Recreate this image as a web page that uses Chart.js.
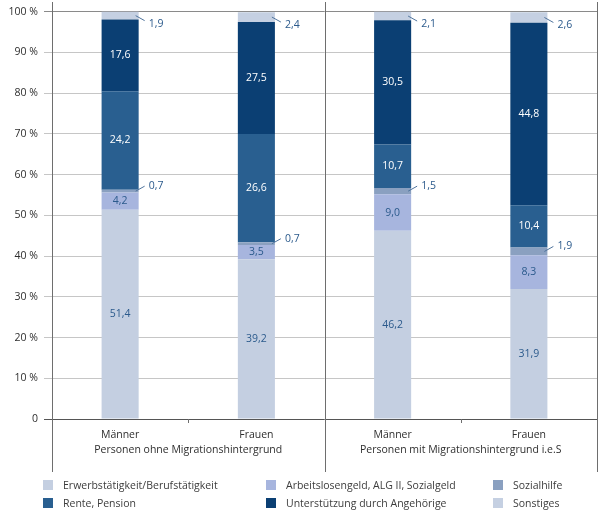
<!DOCTYPE html>
<html>
<head>
<meta charset="utf-8">
<script src="https://cdn.jsdelivr.net/npm/chart.js@4/dist/chart.umd.min.js"></script>
<style>
  body { margin: 0; background: #fff; font-family: "Open Sans", sans-serif; }
  #wrap { position: relative; width: 602px; height: 515px; }
  #chart { position: absolute; left: 0; top: 0; }
  #legend {
    position: absolute; left: 43px; top: 476px;
    display: grid; grid-template-columns: 223px 227px auto;
    font-size: 10.5px; color: #3c3c3c;
  }
  .item { display: flex; align-items: center; height: 18px; white-space: nowrap; }
  .box { width: 10px; height: 10px; margin-right: 10px; flex: none; }
</style>
</head>
<body>
<div id="wrap">
  <canvas id="chart" width="602" height="478"></canvas>
  <div id="legend"></div>
</div>
<script>
// Categories and groups
const categories = ["Männer", "Frauen", "Männer", "Frauen"];
const groups = ["Personen ohne Migrationshintergrund", "Personen mit Migrationshintergrund i.e.S"];

// Series values (percent), bottom to top
const erwerb = [51.4, 39.2, 46.2, 31.9];
const alg = [4.2, 3.5, 9.0, 8.3];
const sozialhilfe = [0.7, 0.7, 1.5, 1.9];
const rente = [24.2, 26.6, 10.7, 10.4];
const unterstuetzung = [17.6, 27.5, 30.5, 44.8];
const sonstiges = [1.9, 2.4, 2.1, 2.6];

const seriesNames = [
  "Erwerbstätigkeit/Berufstätigkeit",
  "Arbeitslosengeld, ALG II, Sozialgeld",
  "Sozialhilfe",
  "Rente, Pension",
  "Unterstützung durch Angehörige",
  "Sonstiges",
];
const seriesColors = ["#c4cfe1", "#a7b5de", "#8aa0c0", "#295f90", "#0b3f73", "#c5d0e2"];
const labelColors = ["#2b5a8c", "#2b5a8c", "#2b5a8c", "#ffffff", "#ffffff", "#2b5a8c"];
const outsideSeries = { 2: "up", 5: "down" };

const yTicks = [0, 10, 20, 30, 40, 50, 60, 70, 80, 90, 100];

const FONT = "Open Sans";
const fmt = (v) => v.toFixed(1).replace(".", ",");

const allData = [erwerb, alg, sozialhilfe, rente, unterstuetzung, sonstiges];
const datasets = allData.map((d, i) => ({
  label: seriesNames[i],
  data: d,
  backgroundColor: seriesColors[i],
  borderWidth: 0,
  barPercentage: 0.272,
  categoryPercentage: 1,
}));

// Value labels (inside or with leader line)
const valueLabels = {
  id: "valueLabels",
  afterDatasetsDraw(chart) {
    const ctx = chart.ctx;
    ctx.save();
    ctx.font = "10.5px '" + FONT + "'";
    ctx.textBaseline = "middle";
    chart.data.datasets.forEach((ds, di) => {
      const meta = chart.getDatasetMeta(di);
      meta.data.forEach((el, i) => {
        const v = ds.data[i];
        const cy = (el.y + el.base) / 2;
        const right = el.x + el.width / 2;
        if (outsideSeries[di]) {
          const dir = outsideSeries[di] === "up" ? -1 : 1;
          ctx.strokeStyle = "#4f739c";
          ctx.lineWidth = 1;
          ctx.beginPath();
          ctx.moveTo(right - 3, cy);
          ctx.lineTo(right + 6, cy + dir * 5);
          ctx.stroke();
          ctx.fillStyle = "#2b5a8c";
          ctx.textAlign = "left";
          ctx.fillText(fmt(v), right + 10, cy + dir * (dir < 0 ? 5 : 8));
        } else {
          ctx.fillStyle = labelColors[di];
          ctx.textAlign = "center";
          ctx.fillText(fmt(v), el.x, cy);
        }
      });
    });
    ctx.restore();
  },
};

// Group separators, axis extensions, group labels
const groupFrame = {
  id: "groupFrame",
  afterDraw(chart) {
    const ctx = chart.ctx;
    const xs = chart.scales.x;
    const area = chart.chartArea;
    const step = xs.getPixelForValue(1) - xs.getPixelForValue(0);
    const bottom = area.bottom + 53;
    ctx.save();
    ctx.strokeStyle = "#6e6e6e";
    ctx.lineWidth = 1;
    const full = [area.left, xs.getPixelForValue(1) + step / 2, area.right];
    full.forEach((x) => {
      const px = Math.round(x) + 0.5;
      ctx.beginPath();
      ctx.moveTo(px, area.top);
      ctx.lineTo(px, bottom);
      ctx.stroke();
    });
    [0, 2].forEach((i) => {
      const px = Math.round(xs.getPixelForValue(i) + step / 2) + 0.5;
      ctx.beginPath();
      ctx.moveTo(px, area.bottom);
      ctx.lineTo(px, area.bottom + 4);
      ctx.stroke();
    });
    ctx.fillStyle = "#2e2e2e";
    ctx.font = "10.5px '" + FONT + "'";
    ctx.textAlign = "center";
    ctx.textBaseline = "middle";
    groups.forEach((g, gi) => {
      const cx = (full[gi] + full[gi + 1]) / 2;
      ctx.fillText(g, cx, area.bottom + 31);
    });
    ctx.restore();
  },
};

new Chart(document.getElementById("chart"), {
  type: "bar",
  data: { labels: categories, datasets: datasets },
  options: {
    responsive: false,
    animation: false,
    devicePixelRatio: 1,
    layout: { padding: { top: 2, right: 5, left: 0, bottom: 0 } },
    plugins: { legend: { display: false }, tooltip: { enabled: false } },
    scales: {
      x: {
        stacked: true,
        grid: { display: false },
        border: { display: false },
        ticks: { color: "#2e2e2e", font: { family: FONT, size: 10.5 }, padding: 2 },
        afterFit: (s) => { s.height = 59; s.paddingLeft = 0; s.paddingRight = 0; },
      },
      y: {
        stacked: true,
        min: 0,
        max: 102.4,
        afterBuildTicks: (s) => { s.ticks = yTicks.map((v) => ({ value: v })); },
        grid: {
          color: (c) => (c.tick && c.tick.value === 0 ? "#555" : c.tick && c.tick.value === 100 ? "#8a8a8a" : "#c6c6c6"),
          tickLength: 8,
        },
        border: { display: false },
        ticks: {
          color: "#2e2e2e",
          font: { family: FONT, size: 10.5 },
          padding: 6,
          callback: (v) => (v === 0 ? "0" : v + " %"),
        },
        afterFit: (s) => { s.width = 52; s.paddingTop = 0; s.paddingBottom = 0; },
      },
    },
  },
  plugins: [valueLabels, groupFrame],
});

// HTML legend, three columns
const legend = document.getElementById("legend");
seriesNames.forEach((name, i) => {
  const item = document.createElement("div");
  item.className = "item";
  const box = document.createElement("span");
  box.className = "box";
  box.style.background = seriesColors[i];
  item.appendChild(box);
  item.appendChild(document.createTextNode(name));
  legend.appendChild(item);
});
</script>
</body>
</html>
